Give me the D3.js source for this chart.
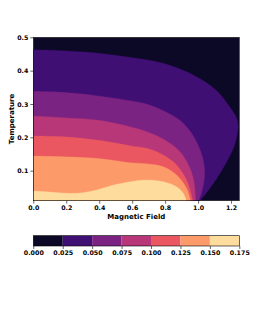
<!DOCTYPE html>
<html>
<head>
<meta charset="utf-8">
<script src="https://cdn.jsdelivr.net/npm/d3@7"></script>
<style>
  body { margin: 0; background: #fff; }
  text { font-family: "DejaVu Sans", sans-serif; font-weight: bold; }
</style>
</head>
<body>
<div id="chart"></div>
<script>
// Contour levels (colorbar ticks)
const levels = [0.000, 0.025, 0.050, 0.075, 0.100, 0.125, 0.150, 0.175];

// Level boundaries, [field, temperature]
const contour025 = [[0, 0.463], [0.18, 0.46], [0.384, 0.453], [0.587, 0.44], [0.789, 0.422], [0.991, 0.382],
  [1.113, 0.34], [1.194, 0.29], [1.232, 0.26], [1.243, 0.235], [1.236, 0.205], [1.214, 0.167],
  [1.163, 0.117], [1.10, 0.067], [1.04, 0.027], [1.01, 0.01]];
const contour050 = [[0, 0.338], [0.18, 0.335], [0.384, 0.325], [0.587, 0.31], [0.688, 0.30], [0.789, 0.28],
  [0.87, 0.258], [0.91, 0.242], [0.961, 0.212], [1.0, 0.177], [1.03, 0.135], [1.04, 0.09],
  [1.028, 0.047], [1.005, 0.01]];
const contour075 = [[0, 0.264], [0.18, 0.259], [0.384, 0.252], [0.587, 0.232], [0.688, 0.217], [0.789, 0.195],
  [0.89, 0.157], [0.951, 0.107], [0.978, 0.057], [0.985, 0.01]];
const contour100 = [[0, 0.204], [0.18, 0.202], [0.384, 0.192], [0.587, 0.175], [0.688, 0.167], [0.789, 0.147],
  [0.87, 0.117], [0.93, 0.072], [0.958, 0.03], [0.968, 0.01]];
const contour125 = [[0, 0.144], [0.18, 0.142], [0.384, 0.137], [0.587, 0.124], [0.688, 0.121], [0.789, 0.112],
  [0.87, 0.087], [0.93, 0.047], [0.955, 0.01]];
const contour150 = [[0, 0.039], [0.1, 0.036], [0.18, 0.033], [0.283, 0.033], [0.384, 0.042], [0.486, 0.057],
  [0.587, 0.067], [0.688, 0.072], [0.789, 0.067], [0.87, 0.052], [0.91, 0.032], [0.928, 0.01]];

const xTicks = [0.0, 0.2, 0.4, 0.6, 0.8, 1.0, 1.2];
const yTicks = [0.1, 0.2, 0.3, 0.4, 0.5];

// Set dimensions
const W = 266, H = 310;
const plot = {left: 33.3, top: 37.3, width: 206, height: 163.4};
const cbar = {left: 33.3, top: 235.7, width: 206, height: 10.3};

const svg = d3.select("#chart").append("svg").attr("width", W).attr("height", H);

const x = d3.scaleLinear().domain([0, 1.25]).range([0, plot.width]);
const y = d3.scaleLinear().domain([0.01, 0.5]).range([plot.height, 0]);

// band colors like matplotlib contourf with magma (layer midpoints)
const color = (i) => d3.interpolateMagma((i + 0.5) / (levels.length - 1));

const g = svg.append("g").attr("transform", `translate(${plot.left},${plot.top})`);

g.append("clipPath").attr("id", "clip")
  .append("rect").attr("width", plot.width).attr("height", plot.height);

const area = g.append("g").attr("clip-path", "url(#clip)");

// lowest band fills the whole box
area.append("rect")
  .attr("width", plot.width)
  .attr("height", plot.height)
  .attr("fill", color(0));

const line = d3.line()
  .x((d) => x(d[0]))
  .y((d) => y(d[1]))
  .curve(d3.curveCatmullRom.alpha(0.5));

const bounds = [contour025, contour050, contour075, contour100, contour125, contour150];

bounds.forEach((pts, i) => {
  // close each region along the left and bottom edges
  const first = pts[0], last = pts[pts.length - 1];
  const d = line(pts) +
    `L${x(last[0])},${y(0.0) }L${x(first[0]) - 2},${y(0.0)}L${x(first[0]) - 2},${y(first[1])}Z`;
  area.append("path")
    .attr("d", d)
    .attr("fill", color(i + 1))
    .attr("stroke", color(i + 1))
    .attr("stroke-width", 0.3);
});

// Axes
const xAxis = g.append("g")
  .attr("transform", `translate(0,${plot.height})`)
  .call(d3.axisBottom(x).tickValues(xTicks).tickFormat(d3.format(".1f")).tickSize(3).tickPadding(2));
const yAxis = g.append("g")
  .call(d3.axisLeft(y).tickValues(yTicks).tickFormat(d3.format(".1f")).tickSize(3).tickPadding(2));

[xAxis, yAxis].forEach((a) => {
  a.select(".domain").remove();
  a.selectAll("text").style("font-size", "6.3px").attr("fill", "#000");
  a.selectAll("line").attr("stroke", "#000").attr("stroke-width", 0.6);
});

g.append("rect")
  .attr("width", plot.width)
  .attr("height", plot.height)
  .attr("fill", "none")
  .attr("stroke", "#000")
  .attr("stroke-width", 0.6);

svg.append("text")
  .attr("x", plot.left + plot.width / 2)
  .attr("y", 219)
  .attr("text-anchor", "middle")
  .style("font-size", "7px")
  .text("Magnetic Field");

svg.append("text")
  .attr("transform", `translate(14.2,${plot.top + plot.height / 2}) rotate(-90)`)
  .attr("text-anchor", "middle")
  .style("font-size", "7px")
  .text("Temperature");

// Colorbar
const cx = d3.scaleLinear().domain([levels[0], levels[levels.length - 1]]).range([0, cbar.width]);
const cb = svg.append("g").attr("transform", `translate(${cbar.left},${cbar.top})`);

cb.selectAll("rect.band")
  .data(levels.slice(0, -1))
  .enter()
  .append("rect")
  .attr("class", "band")
  .attr("x", (d) => cx(d))
  .attr("width", (d, i) => cx(levels[i + 1]) - cx(d))
  .attr("height", cbar.height)
  .attr("fill", (d, i) => color(i));

cb.append("rect")
  .attr("width", cbar.width)
  .attr("height", cbar.height)
  .attr("fill", "none")
  .attr("stroke", "#000")
  .attr("stroke-width", 0.6);

const cAxis = cb.append("g")
  .attr("transform", `translate(0,${cbar.height})`)
  .call(d3.axisBottom(cx).tickValues(levels).tickFormat(d3.format(".3f")).tickSize(3).tickPadding(2));
cAxis.select(".domain").remove();
cAxis.selectAll("text").style("font-size", "6.3px").attr("fill", "#000");
cAxis.selectAll("line").attr("stroke", "#000").attr("stroke-width", 0.6);
</script>
</body>
</html>
